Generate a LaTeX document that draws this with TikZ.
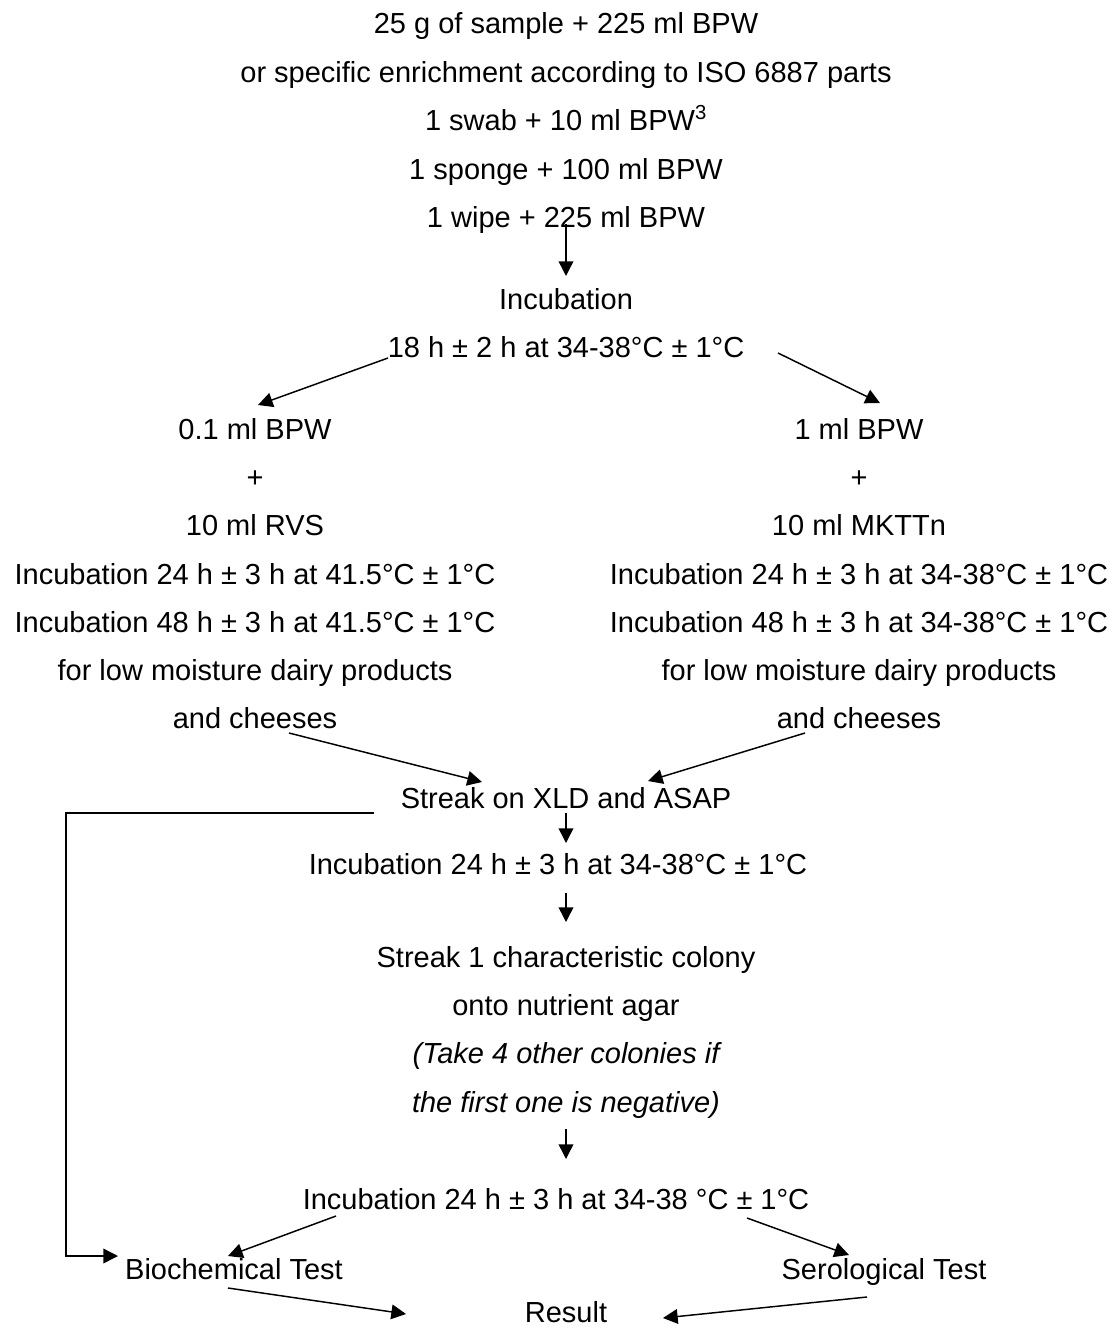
\documentclass[tikz,border=0pt]{standalone}
\usepackage{fontspec}
\setmainfont{Liberation Sans}
\usetikzlibrary{arrows.meta}
\begin{document}
\begin{tikzpicture}[x=0.75pt,y=-0.75pt,
  txt/.style={anchor=base,inner sep=0pt,font=\fontsize{21.75}{26}\selectfont},
  itxt/.style={txt,font=\fontsize{21.75}{26}\selectfont\itshape},
  arr/.style={line width=1.1pt,-{Triangle[length=11pt,width=11pt]}},
  ln/.style={line width=1.1pt}]
\useasboundingbox (0,0) rectangle (1118,1328);
% top block
\node[txt] (t1) at (566,33) {25 g of sample + 225 ml BPW};
\node[txt] (t2) at (566,82) {or specific enrichment according to ISO 6887 parts};
\node[txt] (t3) at (566,130) {1 swab + 10 ml BPW\textsuperscript{3}};
\node[txt] (t4) at (566,179) {1 sponge + 100 ml BPW};
\node[txt] (t5) at (566,227) {1 wipe + 225 ml BPW};
\node[txt] (inc) at (566,309) {Incubation};
\node[txt] (inc2) at (566,357) {18 h ± 2 h at 34-38°C ± 1°C};
% left column
\node[txt] (L1) at (255,439) {0.1 ml BPW};
\node[txt] (L2) at (255,487) {+};
\node[txt] (L3) at (255,535) {10 ml RVS};
\node[txt] (L4) at (255,584) {Incubation 24 h ± 3 h at 41.5°C ± 1°C};
\node[txt] (L5) at (255,632) {Incubation 48 h ± 3 h at 41.5°C ± 1°C};
\node[txt] (L6) at (255,680) {for low moisture dairy products};
\node[txt] (L7) at (255,728) {and cheeses};
% right column
\node[txt] (R1) at (859,439) {1 ml BPW};
\node[txt] (R2) at (859,487) {+};
\node[txt] (R3) at (859,535) {10 ml MKTTn};
\node[txt] (R4) at (859,584) {Incubation 24 h ± 3 h at 34-38°C ± 1°C};
\node[txt] (R5) at (859,632) {Incubation 48 h ± 3 h at 34-38°C ± 1°C};
\node[txt] (R6) at (859,680) {for low moisture dairy products};
\node[txt] (R7) at (859,728) {and cheeses};
% lower block
\node[txt] (streak) at (566,808) {Streak on XLD and ASAP};
\node[txt] (inc3) at (558,874) {Incubation 24 h ± 3 h at 34-38°C ± 1°C};
\node[txt] (s1) at (566,967) {Streak 1 characteristic colony};
\node[txt] (s2) at (566,1015) {onto nutrient agar};
\node[itxt] (s3) at (566,1063) {(Take 4 other colonies if};
\node[itxt] (s4) at (566,1112) {the first one is negative)};
\node[txt] (inc4) at (556,1209) {Incubation 24 h ± 3 h at 34-38 °C ± 1°C};
\node[txt] (bio) at (234,1279) {Biochemical Test};
\node[txt] (sero) at (884,1279) {Serological Test};
\node[txt] (res) at (566,1322) {Result};
% connector end points
\coordinate (a1s) at (566,224); \coordinate (a1e) at (566,276);
\coordinate (a2s) at (388,358); \coordinate (a2e) at (258,405);
\coordinate (a3s) at (778,353); \coordinate (a3e) at (880,403);
\coordinate (a4s) at (289,733); \coordinate (a4e) at (482,782);
\coordinate (a5s) at (805,733); \coordinate (a5e) at (648,781);
\coordinate (a6s) at (566,813); \coordinate (a6e) at (566,843);
\coordinate (a7s) at (566,893); \coordinate (a7e) at (566,922);
\coordinate (a8s) at (566,1129); \coordinate (a8e) at (566,1159);
\coordinate (a9s) at (336,1216); \coordinate (a9e) at (228,1256);
\coordinate (a10s) at (747,1218); \coordinate (a10e) at (849,1255);
\coordinate (a11s) at (228,1288); \coordinate (a11e) at (406,1314);
\coordinate (a12s) at (867,1297); \coordinate (a12e) at (663,1318);
\coordinate (b1) at (374,813); \coordinate (b2) at (66,813);
\coordinate (b3) at (66,1256); \coordinate (b4) at (118,1256);
% connectors
\draw[arr] (a1s) -- (a1e);
\draw[arr] (a2s) -- (a2e);
\draw[arr] (a3s) -- (a3e);
\draw[arr] (a4s) -- (a4e);
\draw[arr] (a5s) -- (a5e);
\draw[arr] (a6s) -- (a6e);
\draw[arr] (a7s) -- (a7e);
\draw[arr] (a8s) -- (a8e);
\draw[arr] (a9s) -- (a9e);
\draw[arr] (a10s) -- (a10e);
\draw[arr] (a11s) -- (a11e);
\draw[arr] (a12s) -- (a12e);
\draw[arr] (b1) -- (b2) -- (b3) -- (b4);
\end{tikzpicture}
\end{document}
